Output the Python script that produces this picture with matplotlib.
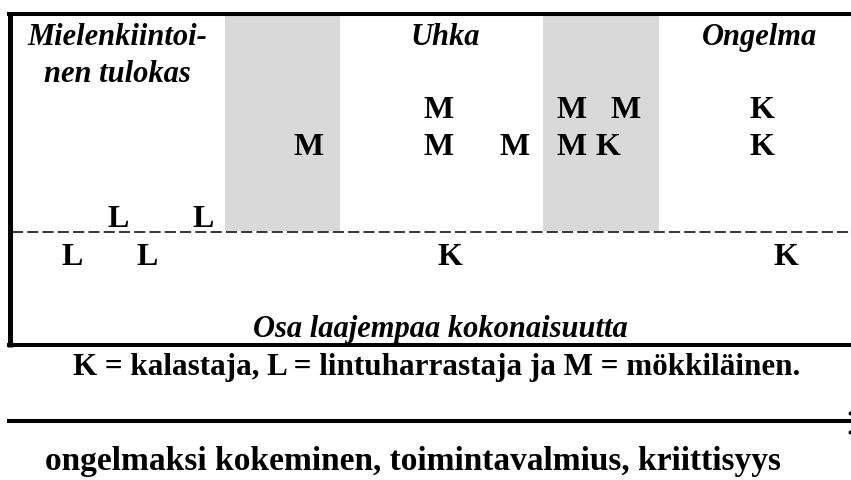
import matplotlib
matplotlib.use("Agg")
import matplotlib.pyplot as plt

plt.rcParams["font.family"] = ["Liberation Serif", "DejaVu Serif"]
plt.rcParams["lines.scale_dashes"] = False

# Column headers (x centre, baseline of first line)
headers = ["Mielenkiintoi-", "nen tulokas", "Uhka", "Ongelma"]
header_x = [117, 117, 445, 760]
header_y = [45, 82, 45, 45]

# Respondent letters: K = kalastaja, L = lintuharrastaja, M = mökkiläinen
letters = ["M", "M", "M", "K",
           "M", "M", "M", "M", "K", "K",
           "L", "L",
           "L", "L", "K", "K"]
letter_x = [439, 572, 626, 762,
            309, 439, 515, 572, 608, 762,
            118, 203,
            72, 147, 450, 786]
letter_y = [118, 118, 118, 118,
            155, 155, 155, 155, 155, 155,
            227, 227,
            265, 265, 265, 265]

# Shaded bands (left, right)
band_left = [225, 543]
band_right = [340, 659]
band_top, band_bottom = 17, 232

dash_y = 233
box_top, box_bottom, box_left = 15, 346, 9.5
axis_y = 422

# dots cut off at the right edge of the axis line
edge_dot_x = [850, 850]
edge_dot_y = [414, 433]

bottom_label = "Osa laajempaa kokonaisuutta"
legend_text = "K = kalastaja, L = lintuharrastaja ja M = mökkiläinen."
axis_label = "ongelmaksi kokeminen, toimintavalmius, kriittisyys"

fig = plt.figure(figsize=(8.51, 4.81), dpi=100)
ax = fig.add_axes([0, 0, 1, 1])
ax.set_xlim(0, 851)
ax.set_ylim(481, 0)
ax.axis("off")

# grey bands
for l, r in zip(band_left, band_right):
    ax.bar((l + r) / 2, band_bottom - band_top, width=r - l, bottom=band_top,
           color="#d9d9d9", linewidth=0, zorder=0)

# frame
ax.plot([7, 851], [box_top, box_top], color="black", lw=2.9, solid_capstyle="butt")
ax.plot([7, 851], [box_bottom, box_bottom], color="black", lw=2.9, solid_capstyle="butt")
ax.plot([box_left, box_left], [13, 348], color="black", lw=3.6, solid_capstyle="butt")
ax.plot([12, 851], [dash_y, dash_y], color="black", lw=1.1, dashes=(8, 3))
ax.plot([7, 851], [axis_y, axis_y], color="black", lw=2.9, solid_capstyle="butt")
ax.scatter(edge_dot_x, edge_dot_y, s=8, color="black", linewidths=0, clip_on=False)

for t, x, y in zip(headers, header_x, header_y):
    ax.text(x, y, t, fontsize=22, fontweight="bold", fontstyle="italic",
            ha="center", va="baseline")

for t, x, y in zip(letters, letter_x, letter_y):
    ax.text(x, y, t, fontsize=23, fontweight="bold", ha="center", va="baseline")

ax.text(440, 337, bottom_label, fontsize=22, fontweight="bold", fontstyle="italic",
        ha="center", va="baseline")
ax.text(437, 375, legend_text, fontsize=22.4, fontweight="bold", ha="center", va="baseline")
ax.text(413, 470, axis_label, fontsize=24, fontweight="bold", ha="center", va="baseline")

fig.savefig("out.png", dpi=100)
